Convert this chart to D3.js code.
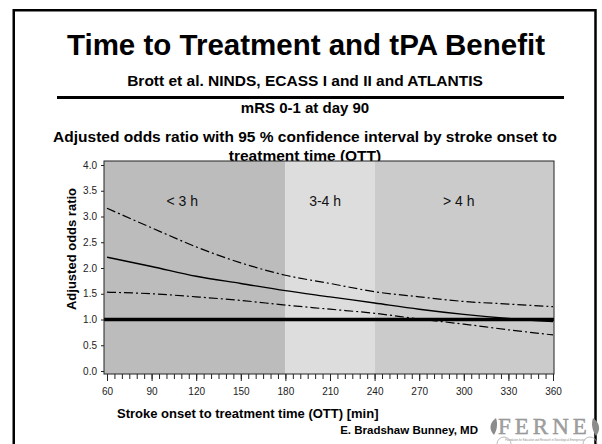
<!DOCTYPE html>
<html>
<head>
<meta charset="utf-8">
<script src="https://cdn.jsdelivr.net/npm/d3@7"></script>
<style>
  body { margin: 0; background: #fff; }
  svg text { font-family: "Liberation Sans", Arial, sans-serif; }
</style>
</head>
<body>
<svg id="slide" width="602" height="444"></svg>
<script>
// onset-to-treatment time (min) and adjusted odds ratios
var times      = [60, 90, 120, 150, 180, 210, 240, 270, 300, 330, 360];
var orEstimate = [2.21, 2.03, 1.84, 1.70, 1.56, 1.44, 1.32, 1.20, 1.10, 1.02, 0.96];
var orUpper    = [3.16, 2.78, 2.41, 2.10, 1.86, 1.70, 1.54, 1.44, 1.35, 1.30, 1.25];
var orLower    = [1.53, 1.50, 1.44, 1.37, 1.28, 1.20, 1.12, 1.01, 0.91, 0.80, 0.70];

var bandLabels = ["< 3 h", "3-4 h", "> 4 h"];
var bandFrom   = [null, 180, 240];   // null = left edge of plot
var bandTo     = [180, 240, null];   // null = right edge of plot
var bandText   = [100, 196, 286];    // minute where label starts
var bandColor  = ["#bcbcbc", "#dddddd", "#cbcbcb"];

var xMajor = d3.range(60, 361, 30);
var xMinor = d3.range(60, 361, 5);
var yTicks = [0, 0.5, 1, 1.5, 2, 2.5, 3, 3.5, 4];

var svg = d3.select("#slide");

var plot = {left: 104, right: 554, top: 161, bottom: 374};

var x = d3.scaleLinear().domain([60, 360]).range([107, 553]),
    y = d3.scaleLinear().domain([0, 4]).range([371, 165]);

// slide frame
svg.append("rect")
    .attr("x", 13.75).attr("y", 10.25)
    .attr("width", 581.75).attr("height", 470)
    .style("fill", "none").style("stroke", "#000").style("stroke-width", 2.5);

svg.append("text")
    .attr("x", 306).attr("y", 55)
    .attr("text-anchor", "middle")
    .style("font-size", "29.5px").style("font-weight", "bold")
    .text("Time to Treatment and tPA Benefit");

svg.append("text")
    .attr("x", 305).attr("y", 86)
    .attr("text-anchor", "middle")
    .style("font-size", "15.5px").style("font-weight", "bold")
    .text("Brott et al. NINDS, ECASS I and II and ATLANTIS");

svg.append("line")
    .attr("x1", 57).attr("x2", 564)
    .attr("y1", 97.5).attr("y2", 97.5)
    .style("stroke", "#000").style("stroke-width", 3);

svg.append("text")
    .attr("x", 305).attr("y", 113)
    .attr("text-anchor", "middle")
    .style("font-size", "15px").style("font-weight", "bold")
    .text("mRS 0-1 at day 90");

var sub = svg.append("text")
    .attr("text-anchor", "middle")
    .style("font-size", "15.5px").style("font-weight", "bold");
sub.append("tspan").attr("x", 305).attr("y", 142)
    .text("Adjusted odds ratio with 95 % confidence interval by stroke onset to");
sub.append("tspan").attr("x", 305).attr("y", 161)
    .text("treatment time (OTT)");

// shaded time bands
var g = svg.append("g");
g.selectAll("rect.band")
    .data(bandLabels)
  .enter().append("rect")
    .attr("class", "band")
    .attr("x", function(d, i) { return bandFrom[i] == null ? plot.left : x(bandFrom[i]); })
    .attr("y", plot.top)
    .attr("width", function(d, i) {
      var a = bandFrom[i] == null ? plot.left : x(bandFrom[i]),
          b = bandTo[i] == null ? plot.right : x(bandTo[i]);
      return b - a;
    })
    .attr("height", plot.bottom - plot.top)
    .style("fill", function(d, i) { return bandColor[i]; });

g.selectAll("text.band")
    .data(bandLabels)
  .enter().append("text")
    .attr("class", "band")
    .attr("x", function(d, i) { return x(bandText[i]); })
    .attr("y", plot.top + 45)
    .style("font-size", "14px").style("fill", "#111")
    .text(function(d) { return d; });

// reference line at OR = 1
g.append("line")
    .attr("x1", plot.left).attr("x2", plot.right)
    .attr("y1", y(1)).attr("y2", y(1))
    .style("stroke", "#000").style("stroke-width", 3.5);

var line = function(vals) {
  return d3.line()
      .x(function(d, i) { return x(times[i]); })
      .y(function(d) { return y(d); })
      .curve(d3.curveMonotoneX)(vals);
};

g.append("path").attr("d", line(orUpper))
    .style("fill", "none").style("stroke", "#000").style("stroke-width", 1.2)
    .style("stroke-dasharray", "9,3,2,3");
g.append("path").attr("d", line(orLower))
    .style("fill", "none").style("stroke", "#000").style("stroke-width", 1.2)
    .style("stroke-dasharray", "9,3,2,3");
g.append("path").attr("d", line(orEstimate))
    .style("fill", "none").style("stroke", "#000").style("stroke-width", 1.4);

g.append("rect")
    .attr("x", plot.left).attr("y", plot.top)
    .attr("width", plot.right - plot.left).attr("height", plot.bottom - plot.top)
    .style("fill", "none").style("stroke", "#222").style("stroke-width", 1);

// axes
var xa = svg.append("g").attr("transform", "translate(0," + plot.bottom + ")")
    .call(d3.axisBottom(x).tickValues(xMajor).tickSize(7).tickPadding(7));
var xm = svg.append("g").attr("transform", "translate(0," + plot.bottom + ")")
    .call(d3.axisBottom(x).tickValues(xMinor).tickSize(5).tickFormat(""));
var ya = svg.append("g").attr("transform", "translate(" + plot.left + ",0)")
    .call(d3.axisLeft(y).tickValues(yTicks).tickSize(3).tickPadding(4)
      .tickFormat(d3.format(".1f")));

[xa, xm, ya].forEach(function(a) {
  a.select(".domain").remove();
  a.selectAll("line").style("stroke", "#222");
  a.selectAll("text").style("font-family", "'Liberation Sans', Arial, sans-serif")
    .style("font-size", "10px").style("fill", "#222");
});

svg.append("text")
    .attr("transform", "translate(76," + 249 + ") rotate(-90)")
    .attr("text-anchor", "middle")
    .style("font-size", "13px").style("font-weight", "bold")
    .text("Adjusted odds ratio");

svg.append("text")
    .attr("x", 117).attr("y", 418)
    .style("font-size", "13px").style("font-weight", "bold")
    .text("Stroke onset to treatment time (OTT) [min]");

svg.append("text")
    .attr("x", 478).attr("y", 434)
    .attr("text-anchor", "end")
    .style("font-size", "11.5px").style("font-weight", "bold")
    .text("E. Bradshaw Bunney, MD");

// FERNE logo
var logo = svg.append("g").style("fill", "#8c8c8c");
logo.append("text")
    .attr("x", 498).attr("y", 434)
    .style("font-family", "'Liberation Serif', 'DejaVu Serif', serif")
    .style("font-size", "23px").style("letter-spacing", "4px")
    .style("fill", "#a0a0a0").style("stroke", "#909090").style("stroke-width", 0.4)
    .text("FERNE");
logo.append("path")
    .attr("d", "M496,418 C489,423 489,430 494,435 C497,430 498,424 496,418 Z");
logo.append("path")
    .attr("d", "M593,418 C600,423 601,430 596,436 C592,430 591,424 593,418 Z");
logo.append("text")
    .attr("x", 545).attr("y", 440.5)
    .attr("text-anchor", "middle")
    .style("font-size", "2.6px")
    .text("Foundation for Education and Research in Neurological Emergencies");
logo.append("path")
    .attr("d", "M497,444 A7,7 0 0 1 511,444 M583,444 A7,7 0 0 1 597,444")
    .style("fill", "none").style("stroke", "#aaa").style("stroke-width", 0.8);
</script>
</body>
</html>
